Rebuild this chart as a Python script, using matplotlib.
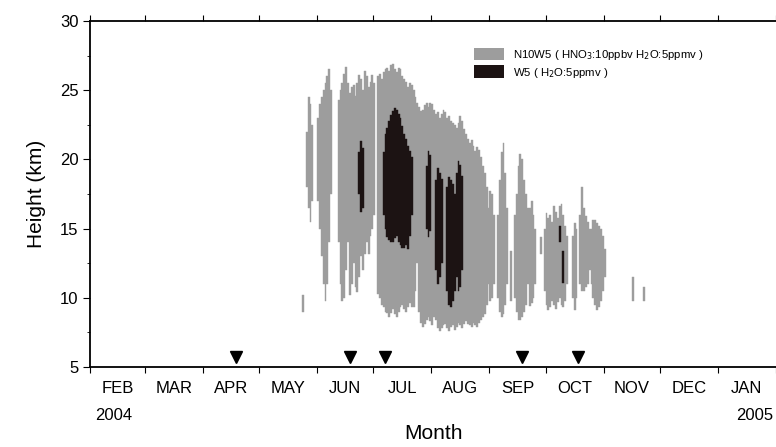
import matplotlib
matplotlib.use('Agg')
import matplotlib.pyplot as plt
from matplotlib.patches import Patch
from matplotlib.ticker import FixedLocator, MultipleLocator
import numpy as np

plt.rcParams['font.family'] = ['Liberation Sans', 'DejaVu Sans']

GRAY = '#9d9d9d'
BLACK = '#1c1313'

# days counted from 1 Feb 2004
month_len = [29, 31, 30, 31, 30, 31, 31, 30, 31, 30, 31, 31]
month_names = ['FEB', 'MAR', 'APR', 'MAY', 'JUN', 'JUL', 'AUG', 'SEP', 'OCT',
               'NOV', 'DEC', 'JAN']

# N10W5 (gray) columns: day, bottom km, top km
gray_day = [113, 115, 116, 117, 118, 121, 122, 123, 124, 125, 126, 127, 128,
            132, 133, 134, 135, 136, 137, 138, 139, 140, 141, 142, 143, 144,
            145, 146, 147, 148, 149, 150, 151, 153, 154, 155, 156, 157, 158,
            159, 160, 161, 162, 163, 164, 165, 166, 167, 168, 169, 170, 171,
            172, 173, 174, 175, 176, 177, 178, 179, 180, 181, 182, 183, 184,
            185, 186, 187, 188, 189, 190, 191, 192, 193, 194, 195, 196, 197,
            198, 199, 200, 201, 202, 203, 204, 205, 206, 207, 208, 209, 210,
            211, 212, 213, 214, 215, 217, 218, 219, 220, 221, 222, 224, 226,
            227, 228, 229, 230, 231, 232, 233, 234, 235, 236, 237, 240, 242,
            243, 244, 245, 246, 247, 248, 249, 250, 251, 252, 253, 254, 257,
            258, 259, 261, 262, 263, 264, 265, 266, 267, 268, 269, 270, 271,
            272, 273, 274, 289, 295]
gray_bot = [9.0, 18.0, 16.5, 15.5, 17.0, 17.0, 15.0, 13.0, 11.0, 9.8, 11.0, 14.0, 17.5,
            14.0, 11.0, 9.8, 10.0, 12.0, 14.0, 10.2, 11.0, 12.5, 10.8, 10.4, 11.5, 13.0,
            12.0, 13.2, 14.0, 13.2, 14.5, 15.0, 16.0, 10.3, 10.0, 9.5, 9.3, 9.0, 8.9,
            8.6, 8.9, 9.2, 8.8, 8.6, 9.0, 9.3, 9.5, 9.2, 9.0, 9.3, 9.6, 9.3,
            9.3, 10.5, 12.5, 9.0, 8.2, 7.9, 8.1, 8.4, 8.6, 8.3, 8.0, 8.6, 8.4,
            7.8, 7.6, 7.8, 8.0, 8.1, 7.8, 7.6, 7.9, 8.0, 7.7, 7.9, 8.2, 8.0,
            7.8, 8.1, 8.3, 8.1, 8.0, 7.9, 8.2, 8.0, 7.9, 8.2, 8.4, 8.6, 8.8,
            9.5, 11.0, 9.8, 10.0, 11.0, 10.0, 9.0, 8.6, 8.8, 9.5, 11.0, 9.8, 10.0,
            9.0, 8.4, 8.4, 8.6, 9.0, 9.5, 11.0, 9.4, 9.6, 10.0, 11.0, 13.2, 10.5,
            9.5, 9.1, 9.3, 9.8, 9.5, 9.2, 9.7, 10.0, 9.5, 9.3, 9.8, 11.0, 10.0,
            9.1, 10.0, 11.0, 10.5, 10.5, 10.8, 11.0, 12.0, 11.0, 10.0, 9.5, 9.1, 9.3,
            9.8, 10.5, 11.5, 9.8, 9.8]
gray_top = [10.2, 22.0, 24.5, 24.0, 22.5, 23.0, 24.0, 24.5, 25.0, 25.5, 26.0, 26.5, 25.0,
            24.3, 25.0, 25.5, 26.2, 26.7, 25.5, 24.8, 25.2, 25.4, 24.6, 25.5, 26.1, 25.8,
            25.0, 26.4, 26.0, 25.2, 25.6, 26.1, 25.5, 26.0, 26.2, 25.8, 26.3, 26.5, 26.6,
            26.4, 26.8, 26.9, 26.5, 26.3, 26.6, 26.5, 26.0, 25.8, 25.6, 25.2, 25.5, 25.4,
            25.0, 24.5, 24.1, 23.8, 23.5, 23.6, 23.9, 24.1, 23.8, 24.1, 24.0, 23.6, 23.3,
            23.4, 23.0, 23.3, 23.6, 23.4, 23.0, 23.1, 22.8, 22.6, 22.5, 22.3, 22.6, 23.1,
            22.8, 22.2, 21.8, 21.5, 21.2, 21.4, 21.0, 20.6, 20.9, 20.7, 20.2, 19.5, 19.0,
            18.0, 16.5, 17.7, 17.5, 16.0, 16.0, 18.5, 20.5, 21.2, 19.0, 16.5, 13.4, 16.0,
            17.5, 19.5, 20.4, 20.0, 18.5, 17.5, 16.5, 16.5, 17.0, 16.0, 15.0, 14.4, 15.0,
            16.1, 15.8, 16.0, 15.5, 16.6, 16.2, 15.8, 16.6, 16.8, 16.0, 15.2, 14.5, 14.5,
            15.4, 15.0, 16.0, 18.0, 16.5, 15.9, 15.5, 15.0, 15.0, 15.6, 15.6, 15.4, 15.2,
            15.0, 14.5, 13.5, 11.5, 10.8]

# W5 (black) columns
black_day = [143, 144, 145, 156, 157, 158, 159, 160, 161, 162, 163, 164, 165,
             166, 167, 168, 169, 170, 171, 179, 180, 181, 184, 185, 186, 187,
             190, 191, 192, 193, 194, 195, 196, 197, 198, 250, 252]
black_bot = [17.5, 16.2, 16.5, 16.0, 15.0, 14.4, 14.2, 14.0, 14.0, 14.3, 14.5, 14.0, 13.8,
             13.6, 13.6, 13.8, 13.5, 14.5, 16.0, 15.0, 14.4, 14.8, 12.0, 11.0, 11.5, 12.5,
             10.5, 9.5, 9.3, 9.8, 10.5, 11.5, 10.5, 10.8, 12.0, 14.0, 11.1]
black_top = [20.5, 21.3, 20.8, 20.5, 21.8, 22.3, 22.8, 23.2, 23.5, 23.7, 23.6, 23.3, 23.0,
             22.4, 21.8, 21.5, 21.0, 20.6, 20.2, 19.5, 20.6, 20.3, 18.5, 19.4, 19.0, 18.6,
             18.0, 18.7, 18.5, 18.2, 17.5, 19.0, 19.9, 19.6, 18.8, 15.2, 13.4]

# launch markers
marker_day = [77.5, 138.3, 157.0, 230.6, 260.5]
marker_h = [5.75, 5.75, 5.75, 5.75, 5.75]


def fill_columns(ax, days, bot, top, color):
    # one step-shaped polygon per run of consecutive days
    days = np.asarray(days)
    bot = np.asarray(bot)
    top = np.asarray(top)
    breaks = np.where(np.diff(days) > 1)[0] + 1
    for idx in np.split(np.arange(len(days)), breaks):
        x = np.append(days[idx], days[idx][-1] + 1)
        lo = np.append(bot[idx], bot[idx][-1])
        hi = np.append(top[idx], top[idx][-1])
        ax.fill_between(x, lo, hi, step='post', color=color, linewidth=0.3,
                        edgecolor=color)


fig = plt.figure(figsize=(7.76, 4.47), dpi=100)
ax = fig.add_axes([0.1166, 0.179, 0.8834, 0.774])

fill_columns(ax, gray_day, gray_bot, gray_top, GRAY)
fill_columns(ax, black_day, black_bot, black_top, BLACK)

ax.plot(marker_day, marker_h, linestyle='none', marker='v', color='black',
        markersize=8, clip_on=False)

edges = np.concatenate([[0], np.cumsum(month_len)])
mids = (edges[:-1] + edges[1:]) / 2
ax.set_xlim(0, edges[-1])
ax.set_ylim(5, 30)

ax.xaxis.set_major_locator(FixedLocator(edges))
ax.set_xticklabels([])
ax.xaxis.set_minor_locator(FixedLocator(mids))
ax.set_xticklabels(month_names, minor=True)
ax.tick_params(axis='x', which='major', direction='out', length=4, width=0.8,
               top=True, labelsize=12)
ax.tick_params(axis='x', which='minor', length=0, pad=10, labelsize=12)
ax.yaxis.set_major_locator(MultipleLocator(5))
ax.yaxis.set_minor_locator(MultipleLocator(2.5))
ax.tick_params(axis='y', which='major', direction='out', length=5, width=0.8,
               labelsize=12)
ax.tick_params(axis='y', which='minor', direction='out', length=2.5, width=0.6)

ax.spines['right'].set_visible(False)
for s in ['left', 'bottom', 'top']:
    ax.spines[s].set_linewidth(1.3)

trans = matplotlib.transforms.blended_transform_factory(ax.transData, ax.transAxes)
ax.text(mids[0] - 2, -0.14, '2004', transform=trans, ha='center', va='center',
        fontsize=12)
ax.text(mids[-1] + 4, -0.14, '2005', transform=trans, ha='center', va='center',
        fontsize=12)

ax.set_xlabel('Month', fontsize=15, labelpad=20)
ax.set_ylabel('Height (km)', fontsize=15, labelpad=10)

handles = [Patch(facecolor=GRAY, edgecolor='none'),
           Patch(facecolor=BLACK, edgecolor='none')]
labels = ['N10W5 ( HNO$_3$:10ppbv H$_2$O:5ppmv )', 'W5 ( H$_2$O:5ppmv )']
ax.legend(handles, labels, loc='upper left', bbox_to_anchor=(0.553, 0.935),
          frameon=False, fontsize=8.2, handlelength=2.6, handleheight=1.3,
          handletextpad=0.8, labelspacing=0.3, borderaxespad=0)

fig.savefig('out.png', dpi=100)
